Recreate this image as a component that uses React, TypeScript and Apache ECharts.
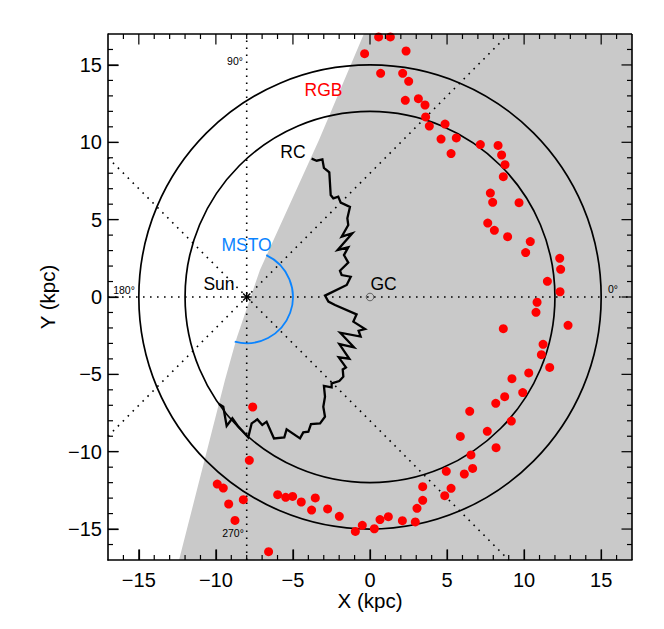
import React, { useEffect, useRef } from "react";
import * as echarts from "echarts";

const majorTicks = [-15, -10, -5, 0, 5, 10, 15];
const minorTicks = [-16, -14, -13, -12, -11, -9, -8, -7, -6, -4, -3, -2, -1, 1, 2, 3, 4, 6, 7, 8, 9, 11, 12, 13, 14, 16];
const axisRange = [-17, 17];
const sun = [-8, 0];
const gc = [0, 0];
const ringRadii = [12, 15];
const mstoRadius = 3;
const mstoAngles = [65, 255];
const wedge = [[-0.4, 17], [-3.31, 10.15], [-7.14, 1.75], [-8.65, -2.65], [-9.41, -5.37], [-12.39, -17], [17, -17], [17, 17]];
const guides = [
  [[-8, -17], [-8, 17]],
  [[-17, 0], [17, 0]],
  [[-17, 9], [9, -17]],
  [[-17, -9], [9, 17]],
];
const rgbStars = [
  [0.56, 16.81], [1.32, 16.81], [-0.35, 15.73], [2.34, 15.9], [0.69, 14.46], [2.12, 14.46], [2.51, 13.94],
  [2.29, 12.71], [3.14, 12.82], [3.57, 12.41], [3.61, 11.64], [3.85, 11.05], [4.87, 11.18], [4.61, 10.21],
  [5.6, 10.28], [5.26, 9.27], [7.16, 9.85], [8.31, 9.8], [8.54, 9.18], [8.76, 8.55], [8.65, 7.78], [7.81, 6.72],
  [7.96, 6.12], [9.67, 6.1], [7.64, 4.78], [8.07, 4.31], [8.93, 3.9], [10.4, 3.58], [10.1, 2.87], [12.31, 2.5],
  [12.37, 1.79], [11.51, 1.01], [12.33, 0.34], [10.84, -0.34], [10.77, -0.99], [12.85, -1.83], [8.65, -2.05],
  [11.23, -3.06], [11.12, -3.73], [11.66, -4.55], [10.3, -4.91], [9.21, -5.28], [9.91, -6.18], [8.74, -6.44],
  [8.16, -6.87], [6.47, -7.39], [9.17, -8.02], [7.61, -8.68], [5.86, -9.01], [8.18, -9.74], [6.55, -10.21],
  [6.66, -11.08], [4.95, -11.27], [6.12, -11.44], [3.42, -12.26], [5.26, -12.37], [4.85, -12.84], [3.42, -13.14],
  [3.05, -13.66], [1.19, -14.2], [0.65, -14.39], [2.1, -14.46], [2.94, -14.54], [-0.5, -14.76], [0.28, -14.98],
  [-0.95, -15.15], [-7.61, -7.11], [-7.83, -10.56], [-9.91, -12.09], [-9.52, -12.35], [-8.22, -13.1],
  [-9.17, -13.38], [-8.76, -14.44], [-6.58, -16.46], [-5.99, -12.78], [-5.47, -12.95], [-5.02, -12.89],
  [-4.46, -13.25], [-3.55, -12.99], [-3.79, -13.77], [-2.75, -13.7], [-1.99, -14.18],
];
const rcEdge = [
  [-3.79, 8.94], [-3.46, 8.81], [-3.09, 8.9], [-2.99, 8.34], [-2.64, 8.06], [-2.55, 6.59], [-2.38, 6.38],
  [-2.06, 6.49], [-1.9, 6.1], [-1.3, 5.82], [-1.47, 5.09], [-1.41, 4.65], [-1.84, 3.9], [-1.15, 4.12],
  [-2.1, 3.04], [-1.41, 3.21], [-1.69, 2.71], [-1.41, 2.22], [-1.95, 1.7], [-1.84, 1.42], [-1.25, 1.31],
  [-1.51, 0.78], [-2.92, 0.09], [-2.7, -0.3], [-2.27, -0.52], [-0.87, -1.12], [-1.08, -1.59], [-0.32, -2.07],
  [-0.74, -2.18], [-0.61, -2.56], [-1.93, -2.31], [-1.04, -3.25], [-1.99, -3.04], [-1.34, -3.99], [-2.03, -3.9],
  [-1.56, -4.55], [-1.77, -4.68], [-1.73, -5.15], [-1.99, -5.43], [-2.49, -5.58], [-2.49, -5.84], [-2.99, -5.75],
  [-2.92, -6.44], [-3.03, -7.09], [-2.92, -7.74], [-3.24, -8.17], [-3.83, -8.21], [-4.0, -8.71], [-4.33, -8.75],
  [-4.54, -9.14], [-5.41, -8.55], [-5.56, -9.07], [-6.23, -9.14], [-6.71, -8.06], [-6.99, -8.27], [-7.31, -7.91],
  [-7.68, -8.17], [-7.9, -9.07], [-8.54, -8.38], [-8.93, -7.84], [-9.3, -8.34], [-9.52, -7.09], [-9.8, -6.92],
];
const annotations: [string, number, number, number, string, number][] = [
  ["RGB", -3.02, 13.38, 17.5, "#ff0000", 0],
  ["RC", -5.0, 9.37, 17.5, "#000", 0],
  ["MSTO", -8.01, 3.36, 17.5, "#0a84ff", 0],
  ["Sun", -9.8, 0.84, 17.5, "#000", 0],
  ["GC", 0.88, 0.84, 17.5, "#000", 0],
  ["90\u00b0", -8.76, 15.26, 10.5, "#000", 0],
  ["180\u00b0", -15.96, 0.45, 10.5, "#000", 0],
  ["0\u00b0", 15.77, 0.52, 10.5, "#000", 0],
  ["270\u00b0", -8.89, -15.26, 10.5, "#000", 0],
  ["X (kpc)", 0, -19.65, 20.5, "#000", 0],
  ["Y (kpc)", -20.9, 0, 20.5, "#000", 90],
];

const FONT = "'Liberation Sans', Arimo, Helvetica, Arial, sans-serif";
const INK = "#000";
const MAJOR_LEN = 10.5;
const MINOR_LEN = 5;

function axis(dim: "x" | "y", position: string) {
  return {
    type: "value",
    position,
    min: axisRange[0],
    max: axisRange[1],
    z: 20,
    splitLine: { show: false },
    axisLine: { show: true, onZero: false, lineStyle: { color: INK, width: 1.6 } },
    axisTick: { show: true, inside: true, length: MAJOR_LEN, customValues: majorTicks, lineStyle: { color: INK, width: 1.2 } },
    axisLabel: {
      show: true,
      customValues: majorTicks,
      color: INK,
      fontFamily: FONT,
      fontSize: 20,
      margin: dim === "x" ? 10 : 6,
      formatter: (v: number) => String(v).replace("-", "\u2212"),
    },
  };
}

export default function App() {
  const ref = useRef<HTMLDivElement>(null);
  useEffect(() => {
    const chart = echarts.init(ref.current!, undefined, { renderer: "svg" });
    const tickRows = [
      ...majorTicks.map((v) => [v, MAJOR_LEN]),
      ...minorTicks.map((v) => [v, MINOR_LEN]),
    ];
    chart.setOption({
      animation: false,
      backgroundColor: "#fff",
      grid: { left: 108, top: 34, width: 524, height: 526, containLabel: false },
      xAxis: axis("x", "bottom"),
      yAxis: axis("y", "left"),
      series: [
        {
          type: "custom",
          z: 1,
          silent: true,
          data: [[0, 0]],
          renderItem: (_p: any, api: any) => ({
            type: "polygon",
            shape: { points: wedge.map((p) => api.coord(p)) },
            style: { fill: "#c9c9c9", stroke: "none" },
          }),
        },
        ...guides.map((g) => ({
          type: "line",
          z: 2,
          silent: true,
          data: g,
          symbol: "none",
          lineStyle: { color: "#000", width: 1.6, type: [1.6, 5.4] },
        })),
        {
          type: "custom",
          z: 3,
          silent: true,
          data: ringRadii.map((r) => [0, 0, r]),
          renderItem: (_p: any, api: any) => {
            const r = api.value(2);
            const c = api.coord(gc);
            return {
              type: "ellipse",
              shape: { cx: c[0], cy: c[1], rx: api.size([r, 0])[0], ry: api.size([0, r])[1] },
              style: { fill: "none", stroke: "#000", lineWidth: 1.7 },
            };
          },
        },
        {
          type: "custom",
          z: 3,
          silent: true,
          data: [[0, 0]],
          renderItem: (_p: any, api: any) => {
            const c = api.coord(sun);
            const r = api.size([mstoRadius, 0])[0];
            return {
              type: "arc",
              shape: {
                cx: c[0],
                cy: c[1],
                r,
                startAngle: (-mstoAngles[0] * Math.PI) / 180,
                endAngle: ((360 - mstoAngles[1]) * Math.PI) / 180,
                clockwise: true,
              },
              style: { fill: "none", stroke: "#0a84ff", lineWidth: 1.8 },
            };
          },
        },
        {
          type: "custom",
          z: 3,
          silent: true,
          data: [[0, 0]],
          renderItem: (_p: any, api: any) => {
            const c = api.coord(gc);
            return {
              type: "circle",
              shape: { cx: c[0], cy: c[1], r: 3.8 },
              style: { fill: "none", stroke: "#555", lineWidth: 0.9 },
            };
          },
        },
        {
          type: "line",
          z: 4,
          silent: true,
          data: rcEdge,
          symbol: "none",
          lineStyle: { color: "#000", width: 2.3, join: "miter" },
        },
        {
          type: "custom",
          z: 5,
          silent: true,
          data: [[0, 0]],
          renderItem: (_p: any, api: any) => {
            const c = api.coord(sun);
            const a = 5;
            const d = 3.6;
            const seg = (dx: number, dy: number) => ({
              type: "line",
              shape: { x1: c[0] - dx, y1: c[1] - dy, x2: c[0] + dx, y2: c[1] + dy },
              style: { stroke: "#000", lineWidth: 1.4 },
            });
            return { type: "group", children: [seg(a, 0), seg(0, a), seg(d, d), seg(d, -d)] };
          },
        },
        {
          type: "scatter",
          z: 6,
          silent: true,
          clip: false,
          data: rgbStars,
          symbol: "circle",
          symbolSize: 9,
          itemStyle: { color: "#ff0000", opacity: 1 },
        },
        {
          type: "custom",
          z: 10,
          silent: true,
          clip: false,
          data: tickRows,
          renderItem: (_p: any, api: any) => {
            const v = api.value(0);
            const len = api.value(1);
            const [lo, hi] = axisRange;
            const bottom = api.coord([v, lo]);
            const top = api.coord([v, hi]);
            const left = api.coord([lo, v]);
            const right = api.coord([hi, v]);
            const line = (x1: number, y1: number, x2: number, y2: number) => ({
              type: "line",
              shape: { x1, y1, x2, y2 },
              style: { stroke: INK, lineWidth: 1.2 },
            });
            return {
              type: "group",
              children: [
                line(bottom[0], bottom[1], bottom[0], bottom[1] - len),
                line(top[0], top[1], top[0], top[1] + len),
                line(left[0], left[1], left[0] + len, left[1]),
                line(right[0], right[1], right[0] - len, right[1]),
              ],
            };
          },
        },
        {
          type: "custom",
          z: 11,
          silent: true,
          clip: false,
          data: [[0, 0]],
          renderItem: (_p: any, api: any) => {
            const [lo, hi] = axisRange;
            const a = api.coord([lo, hi]);
            const b = api.coord([hi, hi]);
            const c = api.coord([hi, lo]);
            const line = (p: number[], q: number[]) => ({
              type: "line",
              shape: { x1: p[0], y1: p[1], x2: q[0], y2: q[1] },
              style: { stroke: INK, lineWidth: 1.6 },
            });
            return { type: "group", children: [line(a, b), line(b, c)] };
          },
        },
        {
          type: "custom",
          z: 12,
          silent: true,
          clip: false,
          data: annotations.map((_a, i) => [i, 0]),
          renderItem: (_p: any, api: any) => {
            const [label, x, y, size, fill, turn] = annotations[api.value(0)];
            const c = api.coord([x, y]);
            return {
              type: "text",
              x: c[0],
              y: c[1],
              rotation: (turn * Math.PI) / 180,
              style: { text: label, fill, font: `${size}px ${FONT}`, align: "center", verticalAlign: "middle" },
            };
          },
        },
      ],
    });
    return () => chart.dispose();
  }, []);
  return <div ref={ref} style={{ position: "absolute", left: 0, top: 0, width: 664, height: 629 }} />;
}
